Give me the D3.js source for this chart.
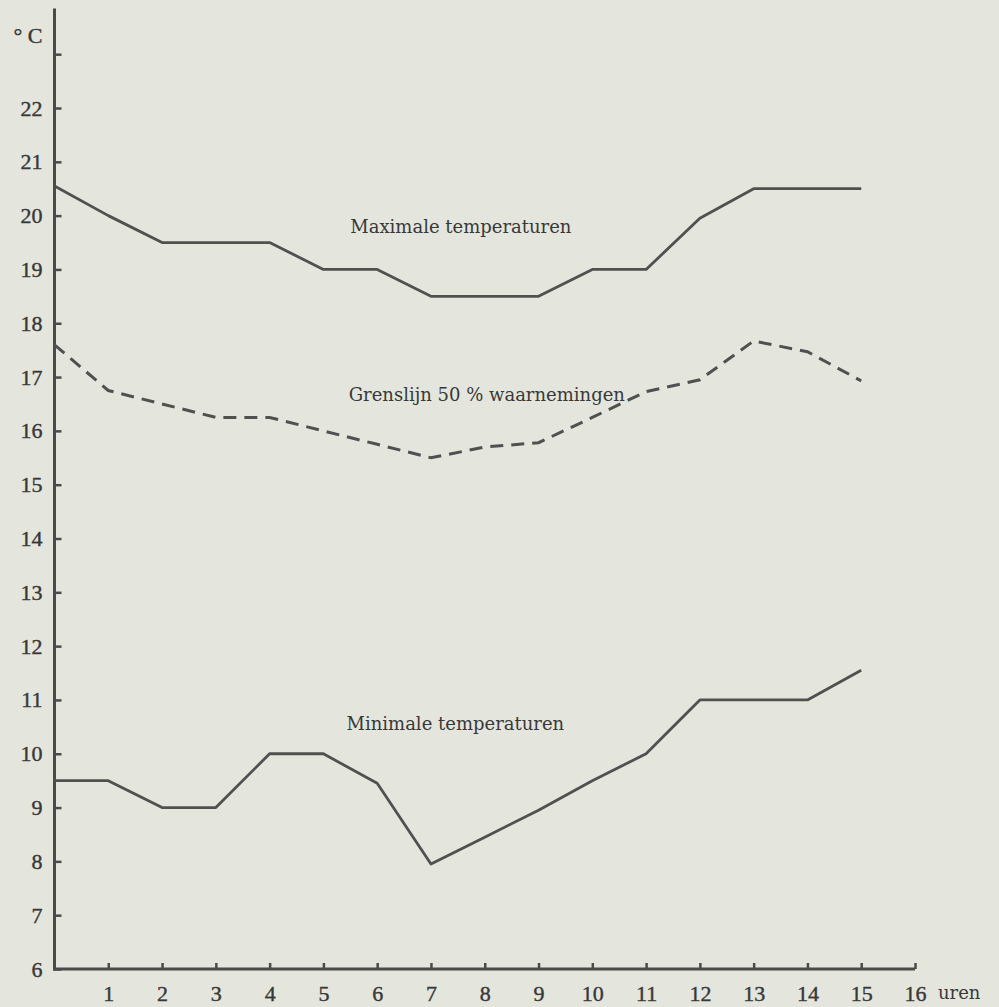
<!DOCTYPE html>
<html>
<head>
<meta charset="utf-8">
<script src="https://cdn.jsdelivr.net/npm/d3@7"></script>
<style>
  html, body { margin: 0; padding: 0; background: #e4e6de; }
  svg { display: block; }
</style>
</head>
<body>
<svg id="chart" width="999" height="1007"></svg>
<script>
// ---- data ----
const hours = [0, 1, 2, 3, 4, 5, 6, 7, 8, 9, 10, 11, 12, 13, 14, 15];
const maxTemps = [20.55, 20.0, 19.5, 19.5, 19.5, 19.0, 19.0, 18.5, 18.5, 18.5, 19.0, 19.0, 19.95, 20.5, 20.5, 20.5];
const borderLine50 = [17.6, 16.75, 16.5, 16.25, 16.25, 16.0, 15.75, 15.5, 15.7, 15.78, 16.25, 16.73, 16.95, 17.67, 17.47, 16.93];
const minTemps = [9.5, 9.5, 9.0, 9.0, 10.0, 10.0, 9.45, 7.95, 8.45, 8.95, 9.5, 10.0, 11.0, 11.0, 11.0, 11.55];
const xTickValues = [1, 2, 3, 4, 5, 6, 7, 8, 9, 10, 11, 12, 13, 14, 15, 16];
const yTickValues = [6, 7, 8, 9, 10, 11, 12, 13, 14, 15, 16, 17, 18, 19, 20, 21, 22, 23];
const yTickLabels = ["6", "7", "8", "9", "10", "11", "12", "13", "14", "15", "16", "17", "18", "19", "20", "21", "22", ""];
const seriesLabels = [
  { text: "Maximale temperaturen", hour: 5.5, value: 19.68 },
  { text: "Grenslijn 50 % waarnemingen", hour: 5.47, value: 16.55 },
  { text: "Minimale temperaturen", hour: 5.43, value: 10.45 }
];
const unitLabel = "° C";
const xUnitLabel = "uren";

// ---- drawing ----
const svg = d3.select("#chart");
const ink = "#4a4a4a";
const x = d3.scaleLinear().domain([0, 16]).range([54.5, 915]);
const y = d3.scaleLinear().domain([6, 22]).range([969, 108]);

// axes
const yAxis = d3.axisLeft(y)
  .tickValues(yTickValues)
  .tickSizeInner(-7)
  .tickSizeOuter(0)
  .tickPadding(12)
  .tickFormat((d, i) => yTickLabels[i]);
const gy = svg.append("g").attr("transform", `translate(${x(0)},0)`).call(yAxis);
gy.select(".domain").remove();
gy.selectAll(".tick line").attr("stroke", ink).attr("stroke-width", 2.5);
gy.selectAll(".tick text")
  .attr("fill", "#383838")
  .attr("stroke", "#383838").attr("stroke-width", 0.4)
  .style("font-family", "'Liberation Serif', serif")
  .style("font-size", "22px");

const xAxis = d3.axisBottom(x)
  .tickValues(xTickValues)
  .tickSizeInner(-6)
  .tickSizeOuter(0)
  .tickPadding(16)
  .tickFormat(d3.format("d"));
const gx = svg.append("g").attr("transform", `translate(0,${y(6)})`).call(xAxis);
gx.select(".domain").remove();
gx.selectAll(".tick line").attr("stroke", ink).attr("stroke-width", 2.5);
gx.selectAll(".tick text")
  .attr("fill", "#383838")
  .attr("stroke", "#383838").attr("stroke-width", 0.4)
  .style("font-family", "'Liberation Serif', serif")
  .style("font-size", "22px");

// axis lines
svg.append("line")
  .attr("x1", x(0)).attr("x2", x(0))
  .attr("y1", y(23.85)).attr("y2", y(6) + 1.5)
  .attr("stroke", ink).attr("stroke-width", 3);
svg.append("line")
  .attr("x1", x(0) - 1.5).attr("x2", x(16))
  .attr("y1", y(6)).attr("y2", y(6))
  .attr("stroke", ink).attr("stroke-width", 3);

// lines
const line = d3.line().x((d, i) => x(hours[i])).y(d => y(d));
svg.append("path").datum(maxTemps)
  .attr("d", line).attr("fill", "none")
  .attr("stroke", "#505050").attr("stroke-width", 2.8).attr("stroke-linejoin", "round");
svg.append("path").datum(borderLine50)
  .attr("d", line).attr("fill", "none")
  .attr("stroke", "#505050").attr("stroke-width", 3)
  .attr("stroke-dasharray", "13,8");
svg.append("path").datum(minTemps)
  .attr("d", line).attr("fill", "none")
  .attr("stroke", "#505050").attr("stroke-width", 2.8).attr("stroke-linejoin", "round");

// labels
svg.selectAll("text.series").data(seriesLabels).enter().append("text")
  .attr("class", "series")
  .attr("x", d => x(d.hour))
  .attr("y", d => y(d.value))
  .attr("fill", "#383838")
  .style("font-family", "'DejaVu Serif', serif")
  .style("font-size", "18px")
  .text(d => d.text);

svg.append("text")
  .attr("x", x(0) - 12).attr("y", y(23.85) + 35)
  .attr("text-anchor", "end")
  .attr("fill", "#383838")
  .attr("stroke", "#383838").attr("stroke-width", 0.4)
  .style("font-family", "'Liberation Serif', serif")
  .style("font-size", "22px")
  .text(unitLabel);

svg.append("text")
  .attr("x", x(16) + 23).attr("y", y(6) + 30)
  .attr("fill", "#383838")
  .style("font-family", "'DejaVu Serif', serif")
  .style("font-size", "18px")
  .text(xUnitLabel);
</script>
</body>
</html>
